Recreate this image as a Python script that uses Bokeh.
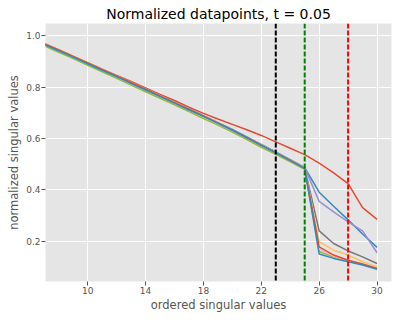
from bokeh.plotting import figure
from bokeh.models import Span, FixedTicker, PrintfTickFormatter, Range1d
from bokeh.embed import file_html
from bokeh.resources import INLINE

# ordered singular value index
x = list(range(7, 31))

# normalized singular values per datapoint
red_a = [0.970, 0.945, 0.920, 0.895, 0.870, 0.846, 0.822, 0.797, 0.772, 0.748, 0.722, 0.698,
         0.676, 0.655, 0.634, 0.612, 0.587, 0.562, 0.537, 0.504, 0.466, 0.424, 0.331, 0.285]
blue_a = [0.968, 0.944, 0.919, 0.893, 0.868, 0.843, 0.818, 0.792, 0.766, 0.741, 0.715, 0.689,
          0.662, 0.635, 0.606, 0.577, 0.548, 0.518, 0.487, 0.391, 0.336, 0.283, 0.228, 0.176]
purple = [0.967, 0.943, 0.918, 0.892, 0.867, 0.842, 0.817, 0.791, 0.765, 0.740, 0.714, 0.688,
          0.661, 0.634, 0.605, 0.575, 0.546, 0.517, 0.486, 0.355, 0.314, 0.275, 0.240, 0.155]
gray = [0.966, 0.942, 0.917, 0.891, 0.866, 0.841, 0.815, 0.789, 0.764, 0.738, 0.712, 0.686,
        0.659, 0.632, 0.603, 0.573, 0.544, 0.515, 0.484, 0.240, 0.191, 0.162, 0.139, 0.113]
yellow = [0.971, 0.946, 0.921, 0.895, 0.870, 0.844, 0.819, 0.793, 0.767, 0.741, 0.715, 0.689,
          0.662, 0.634, 0.605, 0.575, 0.545, 0.516, 0.485, 0.197, 0.165, 0.146, 0.120, 0.100]
green = [0.961, 0.936, 0.911, 0.885, 0.860, 0.834, 0.808, 0.782, 0.757, 0.731, 0.705, 0.678,
         0.652, 0.625, 0.596, 0.566, 0.538, 0.509, 0.480, 0.160, 0.138, 0.123, 0.109, 0.093]
pink = [0.967, 0.943, 0.918, 0.892, 0.867, 0.842, 0.816, 0.790, 0.765, 0.739, 0.713, 0.687,
        0.660, 0.633, 0.604, 0.574, 0.545, 0.516, 0.485, 0.170, 0.142, 0.125, 0.110, 0.094]
red_b = [0.969, 0.945, 0.920, 0.894, 0.869, 0.844, 0.818, 0.792, 0.766, 0.740, 0.714, 0.688,
         0.661, 0.633, 0.604, 0.574, 0.545, 0.515, 0.484, 0.178, 0.146, 0.126, 0.111, 0.094]
blue_b = [0.966, 0.942, 0.917, 0.891, 0.866, 0.841, 0.815, 0.790, 0.764, 0.738, 0.712, 0.686,
          0.660, 0.633, 0.604, 0.573, 0.544, 0.515, 0.484, 0.150, 0.133, 0.120, 0.107, 0.091]

series = [red_a, blue_a, purple, gray, yellow, green, pink, red_b, blue_b]
colors = ["#E24A33", "#348ABD", "#988ED5", "#777777", "#FBC15E", "#8EBA42", "#FFB5B8",
          "#E24A33", "#348ABD"]

thresholds = [23, 25, 28]
threshold_colors = ["#000000", "#008000", "#FF0000"]

x_ticks = [10, 14, 18, 22, 26, 30]
y_ticks = [0.2, 0.4, 0.6, 0.8, 1.0]

FONT = "DejaVu Sans"

p = figure(width=399, height=320, output_backend="svg", toolbar_location=None,
           x_range=Range1d(7.08, 31.0), y_range=Range1d(0.043, 1.048),
           title="Normalized datapoints, t = 0.05",
           min_border_left=45, min_border_right=8, min_border_top=23, min_border_bottom=39)

p.background_fill_color = "#E5E5E5"
p.border_fill_color = "white"
p.outline_line_color = None

p.title.text_font = FONT
p.title.text_font_size = "14px"
p.title.text_font_style = "normal"
p.title.text_color = "#000000"
p.title.align = "center"
p.title.standoff = 4
p.title.offset = 0

for ys, c in zip(series, colors):
    p.line(x, ys, line_color=c, line_width=1.5)

for t, c in zip(thresholds, threshold_colors):
    p.add_layout(Span(location=t, dimension="height", line_color=c, line_width=2,
                      line_dash="5 2"))

p.xaxis.ticker = FixedTicker(ticks=x_ticks)
p.yaxis.ticker = FixedTicker(ticks=y_ticks)
p.yaxis.formatter = PrintfTickFormatter(format="%.1f")

p.xaxis.axis_label = "ordered singular values"
p.yaxis.axis_label = "normalized singular values"

for ax in (p.xaxis[0], p.yaxis[0]):
    ax.axis_line_color = None
    ax.major_tick_line_color = "#555555"
    ax.major_tick_in = 0
    ax.major_tick_out = 4
    ax.minor_tick_line_color = None
    ax.major_label_text_font = FONT
    ax.major_label_text_font_size = "9px"
    ax.major_label_text_color = "#555555"
    ax.major_label_standoff = 1
    ax.axis_label_text_font = FONT
    ax.axis_label_text_font_size = "11.5px"
    ax.axis_label_text_font_style = "normal"
    ax.axis_label_text_color = "#555555"
    ax.axis_label_standoff = 2

p.xaxis[0].axis_label_standoff = 1

p.xgrid.grid_line_color = "white"
p.ygrid.grid_line_color = "white"
p.xgrid.grid_line_width = 1
p.ygrid.grid_line_width = 1

open("out.html", "w").write(file_html(p, INLINE))
